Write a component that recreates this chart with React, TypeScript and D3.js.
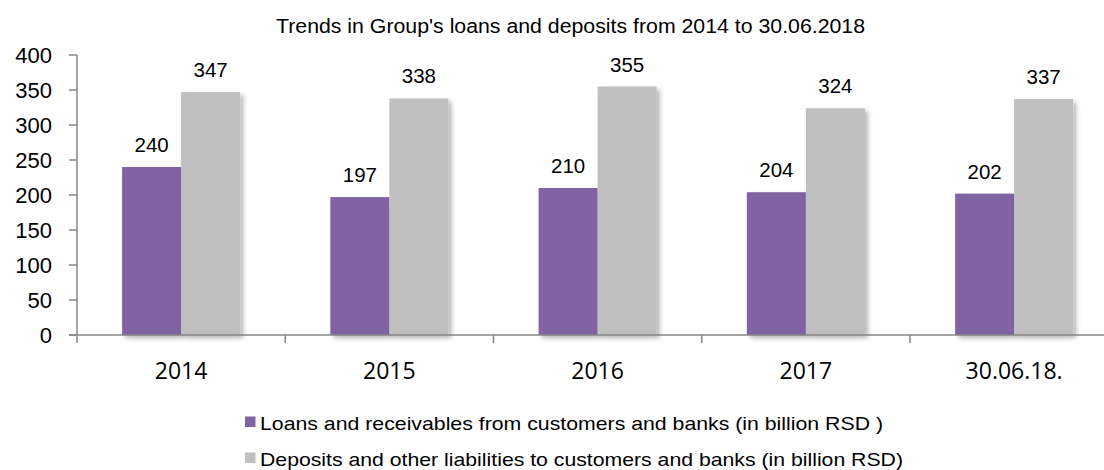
import React from "react";
import * as d3 from "d3";

const categories = ["2014", "2015", "2016", "2017", "30.06.18."];
const loans = [240, 197, 210, 204, 202];
const deposits = [347, 338, 355, 324, 337];
const yTicks = [0, 50, 100, 150, 200, 250, 300, 350, 400];
const seriesNames = [
  "Loans and receivables from customers and banks (in billion RSD )",
  "Deposits and other liabilities to customers and banks (in billion RSD)",
];
const legendWidths = [623, 643];
const colors = ["#8064A2", "#BFBFBF"];
const title = "Trends in Group's loans and deposits from 2014 to 30.06.2018";

export default function App() {
  const W = 1104, H = 470;
  const x0 = 77, bandW = 208.25;
  const x = d3.scaleBand<string>().domain(categories).range([x0, x0 + bandW * categories.length]).paddingInner(0).paddingOuter(0);
  const y = d3.scaleLinear().domain([0, 400]).range([335, 55]);
  const barW = 59;
  const series = [loans, deposits];
  const font = "'Liberation Sans', Arial, sans-serif";
  return (
    <svg width={W} height={H} style={{ position: "fixed", left: 0, top: 0, background: "#fff" }}>
      <defs>
        <filter id="sh" x="-20%" y="-10%" width="150%" height="130%">
          <feGaussianBlur in="SourceAlpha" stdDeviation="2.5" />
          <feOffset dx="3" dy="3" result="b" />
          <feComponentTransfer><feFuncA type="linear" slope="0.3" /></feComponentTransfer>
          <feMerge><feMergeNode /><feMergeNode in="SourceGraphic" /></feMerge>
        </filter>
      </defs>
      <text x={276} y={33} fontFamily={font} fontSize={19.5} textLength={589} lengthAdjust="spacingAndGlyphs" fill="#000">{title}</text>
      {/* bars */}
      {categories.map((c, i) => {
        const cx = (x(c) as number) + x.bandwidth() / 2;
        return (
          <g key={c}>
            {series.map((s, k) => {
              const bx = cx - barW + k * barW;
              return (
                <g key={k}>
                  <rect x={bx} y={y(s[i])} width={barW} height={y(0) - y(s[i])} fill={colors[k]} filter="url(#sh)" />
                  <text x={bx + barW / 2} y={y(s[i]) - 15} textAnchor="middle" fontFamily={font} fontSize={20.5} fill="#000">{s[i]}</text>
                </g>
              );
            })}
          </g>
        );
      })}
      {/* y axis */}
      <line x1={x0} x2={x0} y1={y(400)} y2={y(0)} stroke="#868686" strokeWidth={1.5} />
      {yTicks.map((t) => (
        <g key={t}>
          <line x1={x0 - 8} x2={x0} y1={y(t)} y2={y(t)} stroke="#868686" strokeWidth={1.5} />
          <text x={52} y={y(t)} dy="0.36em" textAnchor="end" fontFamily={font} fontSize={22} fill="#000">{t}</text>
        </g>
      ))}
      {/* x axis */}
      <line x1={x0 - 8} x2={W} y1={y(0)} y2={y(0)} stroke="#868686" strokeWidth={1.5} />
      {categories.map((c) => (
        <g key={c}>
          <line x1={x(c) as number} x2={x(c) as number} y1={y(0)} y2={y(0) + 8} stroke="#868686" strokeWidth={1.5} />
          <text x={(x(c) as number) + x.bandwidth() / 2} y={379} textAnchor="middle" fontFamily="'Open Sans', sans-serif" fontSize={23} fill="#000">{c}</text>
        </g>
      ))}
      {/* legend */}
      {seriesNames.map((n, k) => (
        <g key={n} transform={`translate(245, ${430 + k * 36})`}>
          <rect x={0} y={-13.5} width={10.5} height={10.5} fill={colors[k]} />
          <text x={15} y={0} fontFamily={font} fontSize={18.5} textLength={legendWidths[k]} lengthAdjust="spacingAndGlyphs" fill="#000">{n}</text>
        </g>
      ))}
    </svg>
  );
}
